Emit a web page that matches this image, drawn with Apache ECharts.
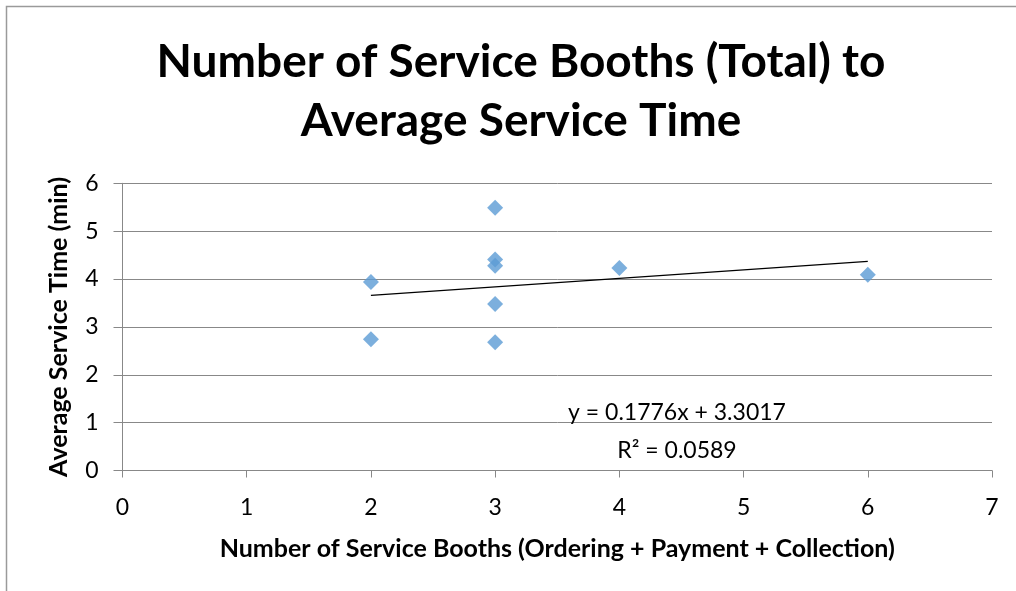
<!DOCTYPE html>
<html>
<head>
<meta charset="utf-8">
<script src="https://cdn.jsdelivr.net/npm/echarts@6/dist/echarts.min.js"></script>
<style>
  html, body { margin: 0; padding: 0; background: #fff; }
  #chart { width: 1016px; height: 591px; }
</style>
</head>
<body>
<div id="chart"></div>
<script>
// Booth counts and average service times for each observed outlet
const booths = [2, 2, 3, 3, 3, 3, 3, 4, 6];
const serviceTimes = [3.94, 2.74, 5.49, 4.41, 4.28, 3.48, 2.68, 4.23, 4.09];

// Linear trendline fitted to the points
const trendSlope = 0.1776;
const trendIntercept = 3.3017;
const trendRSquared = 0.0589;
const trendRange = [2, 6];

// Axis tick values
const xTicks = [0, 1, 2, 3, 4, 5, 6, 7];
const yTicks = [0, 1, 2, 3, 4, 5, 6];

const titleLines = ['Number of Service Booths (Total) to', 'Average Service Time'];
const xAxisTitle = 'Number of Service Booths (Ordering + Payment + Collection)';
const yAxisTitle = 'Average Service Time (min)';

const points = booths.map((b, i) => [b, serviceTimes[i]]);
const trendPoints = trendRange.map(x => [x, trendIntercept + trendSlope * x]);
const equationText = 'y = ' + trendSlope.toFixed(4) + 'x + ' + trendIntercept.toFixed(4) +
  '\nR² = ' + trendRSquared.toFixed(4);

const gridColor = '#888888';
const chart = echarts.init(document.getElementById('chart'), null, { renderer: 'canvas' });

chart.setOption({
  backgroundColor: '#ffffff',
  animation: false,
  title: {
    text: titleLines.join('\n'),
    left: 516,
    top: 28,
    textAlign: 'center',
    textStyle: {
      fontFamily: 'Lato',
      fontWeight: 'bold',
      fontSize: 46,
      lineHeight: 59,
      color: '#000000'
    }
  },
  grid: {
    left: 122.5,
    right: 24,
    top: 183.3,
    bottom: 120.5,
    containLabel: false
  },
  xAxis: {
    type: 'value',
    min: xTicks[0],
    max: xTicks[xTicks.length - 1],
    interval: 1,
    name: xAxisTitle,
    nameLocation: 'middle',
    nameGap: 66,
    nameTextStyle: {
      fontFamily: 'Lato',
      fontWeight: 'bold',
      fontSize: 25,
      color: '#000000'
    },
    axisLine: { show: true, lineStyle: { color: gridColor, width: 1 } },
    axisTick: { show: true, inside: false, length: 7, lineStyle: { color: gridColor } },
    axisLabel: {
      margin: 26,
      fontFamily: 'Lato',
      fontSize: 23,
      color: '#000000'
    },
    splitLine: { show: false }
  },
  yAxis: {
    type: 'value',
    min: yTicks[0],
    max: yTicks[yTicks.length - 1],
    interval: 1,
    name: yAxisTitle,
    nameLocation: 'middle',
    nameGap: 51,
    nameTextStyle: {
      fontFamily: 'Lato',
      fontWeight: 'bold',
      fontSize: 25,
      color: '#000000'
    },
    axisLine: { show: true, lineStyle: { color: gridColor, width: 1 } },
    axisTick: { show: true, inside: false, length: 9, lineStyle: { color: gridColor } },
    axisLabel: {
      margin: 24,
      fontFamily: 'Lato',
      fontSize: 23,
      color: '#000000'
    },
    splitLine: { show: true, lineStyle: { color: gridColor, width: 1 } }
  },
  series: [
    {
      type: 'scatter',
      data: points,
      symbol: 'diamond',
      symbolSize: [16, 16],
      itemStyle: { color: '#5B9BD5' },
      z: 3
    },
    {
      type: 'line',
      data: trendPoints,
      showSymbol: false,
      symbol: 'none',
      lineStyle: { color: '#000000', width: 1.3 },
      z: 4,
      silent: true
    }
  ],
  graphic: [
    {
      type: 'text',
      x: 677,
      y: 432,
      style: {
        text: equationText,
        align: 'center',
        verticalAlign: 'middle',
        fontFamily: 'Lato',
        fontSize: 23,
        lineHeight: 38,
        fill: '#000000'
      },
      z: 10
    },
    {
      type: 'polyline',
      shape: { points: [[6.5, 591], [6.5, 6.5], [1016, 6.5]] },
      style: { stroke: '#9a9a9a', lineWidth: 1.5, fill: null },
      silent: true
    }
  ]
});
</script>
</body>
</html>
